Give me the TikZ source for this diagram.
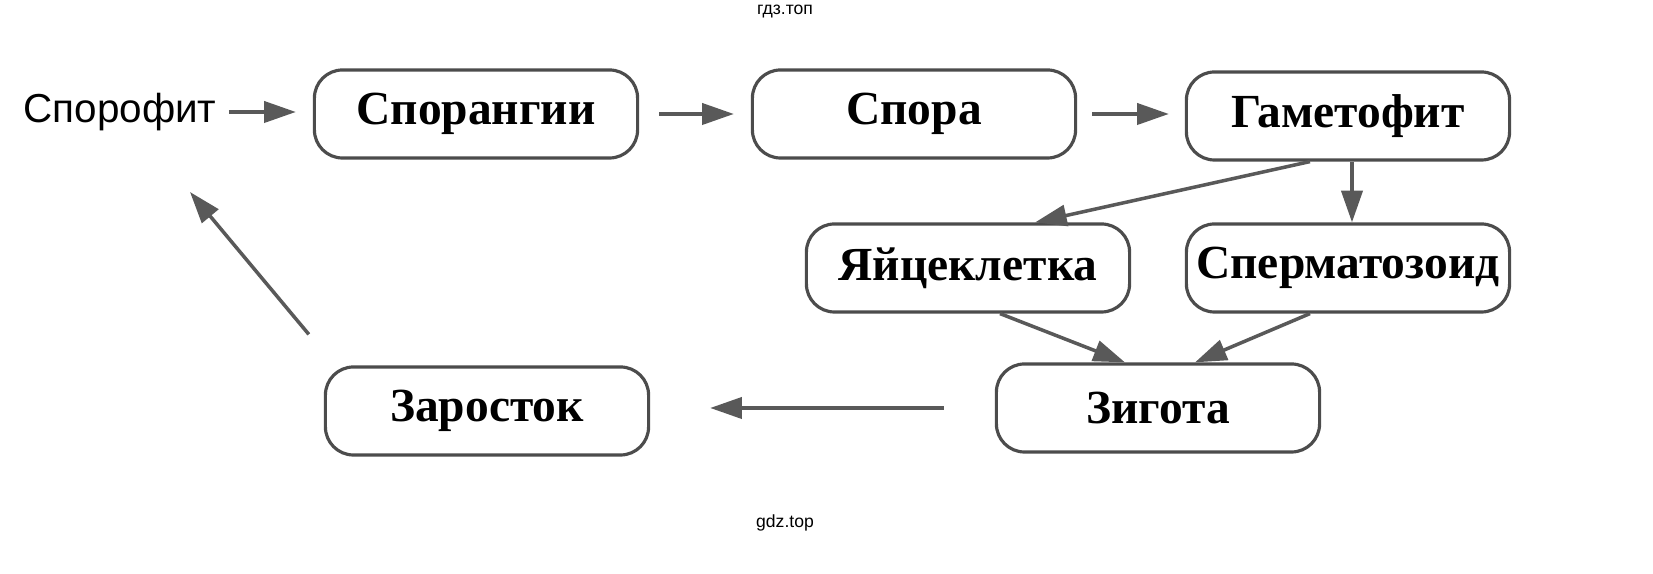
\documentclass[tikz,border=0pt]{standalone}
\usepackage{fontspec}
\setmainfont{Liberation Serif}
\newfontfamily\labelfont{Liberation Sans}
\usetikzlibrary{arrows.meta}

\tikzset{
  stage/.style={draw=black!70, line width=0.9pt, rounded corners=8pt,
    minimum width=3.23cm, minimum height=0.88cm, inner sep=0pt,
    font=\fontsize{13.5}{15}\selectfont\bfseries},
  link/.style={draw=black!65, line width=1pt, -{Triangle[length=9pt,width=6pt]}},
  sitemark/.style={font=\labelfont\fontsize{5}{6}\selectfont}
}

\begin{document}
\begin{tikzpicture}[x=0.01cm, y=-0.01cm]
			\useasboundingbox (0,0) rectangle (1653,574);
			% stages of the cycle
			\node[stage] (sporangia) at (476,114) {Спорангии};
			\node[stage] (spore) at (914,114) {Спора};
			\node[stage] (gametophyte) at (1348,116) {Гаметофит};
			\node[stage] (egg) at (968,268) {Яйцеклетка};
			\node[stage] (sperm) at (1348,268) {Сперматозоид};
			\node[stage] (zygote) at (1158,408) {Зигота};
			\node[stage] (sprout) at (487,411) {Заросток};
			\node[font=\labelfont\fontsize{11.5}{13}\selectfont] (sporophyte) at (120,112) {Спорофит};
			\coordinate (reentry) at (190,192);
			\node[sitemark] (top) at (785,12) {гдз.топ};
			\node[sitemark] (bottom) at (785,523) {gdz.top};
			% arrows
			\draw[link] (sporophyte.east) -- ([xshift=-0.17cm]sporangia.west |- sporophyte.east);
			\draw[link] ([xshift=0.2cm]sporangia.east) -- ([xshift=-0.17cm]spore.west);
			\draw[link] ([xshift=0.15cm]spore.east) -- ([xshift=-0.16cm]gametophyte.west |- spore.east);
			\draw[link] ([xshift=-0.38cm]gametophyte.south) -- ([xshift=-0.96cm]egg.north east);
			\draw[link] ([xshift=0.04cm]gametophyte.south) -- ([xshift=0.04cm]sperm.north);
			\draw[link] ([xshift=0.32cm]egg.south) -- ([xshift=-0.33cm]zygote.north);
			\draw[link] ([xshift=-0.38cm]sperm.south) -- ([xshift=0.37cm]zygote.north);
			\draw[link] ([xshift=-0.51cm]zygote.west) -- ([xshift=0.6cm]sprout.east |- zygote.west);
			\draw[link] ([xshift=-0.15cm,yshift=0.31cm]sprout.north west) -- (reentry);
\end{tikzpicture}
\end{document}
